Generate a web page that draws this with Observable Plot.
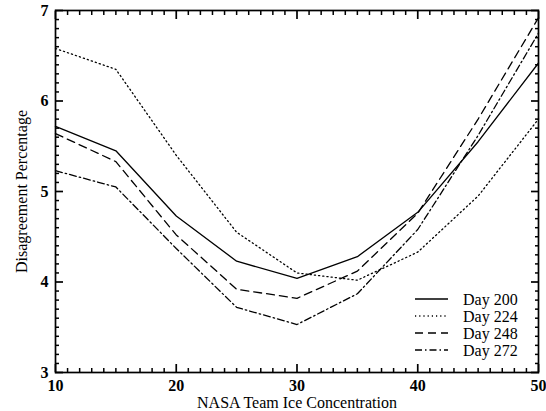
<!DOCTYPE html>
<html>
<head>
<meta charset="utf-8">
<script src="https://cdn.jsdelivr.net/npm/d3@7"></script>
<script src="https://cdn.jsdelivr.net/npm/@observablehq/plot@0.6"></script>
<style>
  body { margin: 0; background: #fff; }
  #wrap { position: relative; width: 546px; height: 411px; }
  #legend { position: absolute; left: 0; top: 0; }
</style>
</head>
<body>
<div id="wrap"></div>
<script>
// Data
const concentration = [10, 15, 20, 25, 30, 35, 40, 45, 50];
const day200 = [5.72, 5.45, 4.73, 4.23, 4.04, 4.28, 4.77, 5.55, 6.42];
const day224 = [6.58, 6.35, 5.40, 4.55, 4.10, 4.02, 4.33, 4.95, 5.80];
const day248 = [5.64, 5.33, 4.52, 3.92, 3.82, 4.12, 4.76, 5.80, 6.92];
const day272 = [5.23, 5.05, 4.37, 3.72, 3.53, 3.87, 4.58, 5.62, 6.75];
const seriesNames = ["Day 200", "Day 224", "Day 248", "Day 272"];
const seriesValues = [day200, day224, day248, day272];
const dashes = ["none", "1.2,3", "8,5", "7,3,1.5,3"];

const xDomain = [10, 50];
const yDomain = [3, 7];
const xMajor = [10, 20, 30, 40, 50];
const xMinor = d3.range(10, 51, 1).filter(v => v % 10 !== 0);
const yMajor = [3, 4, 5, 6, 7];
const yMinor = d3.range(30, 71, 1).filter(v => v % 10 !== 0).map(v => v / 10);

const rows = [];
seriesNames.forEach((name, s) => {
  concentration.forEach((c, i) => rows.push({series: name, x: c, y: seriesValues[s][i]}));
});

const font = "'Liberation Serif', 'Times New Roman', serif";
const W = 546, H = 411, mL = 55, mR = 8, mT = 10, mB = 39;
const tickOnly = () => "";
const maj = {tickSize: -8, tickFormat: tickOnly, label: null, strokeWidth: 1.7};
const min = {tickSize: -4, tickFormat: tickOnly, label: null, strokeWidth: 1.5};

const marks = [
  // inward ticks on all four sides
  Plot.axisX(xMajor, {anchor: "bottom", ...maj}),
  Plot.axisX(xMinor, {anchor: "bottom", ...min}),
  Plot.axisX(xMajor, {anchor: "top", ...maj}),
  Plot.axisX(xMinor, {anchor: "top", ...min}),
  Plot.axisY(yMajor, {anchor: "left", ...maj}),
  Plot.axisY(yMinor, {anchor: "left", ...min}),
  Plot.axisY(yMajor, {anchor: "right", ...maj}),
  Plot.axisY(yMinor, {anchor: "right", ...min}),
  Plot.frame({stroke: "black", strokeWidth: 1.7}),
  // tick labels
  Plot.axisX(xMajor, {anchor: "bottom", tickSize: 0, tickPadding: 7, label: null, tickFormat: "d", fontSize: 16, fontWeight: "bold"}),
  Plot.axisY(yMajor, {anchor: "left", tickSize: 0, tickPadding: 7, label: null, tickFormat: "d", fontSize: 16, fontWeight: "bold"}),
  // axis titles
  Plot.text(["NASA Team Ice Concentration"], {frameAnchor: "bottom", dy: 30, text: d => d, fontSize: 16, textAnchor: "middle", lineAnchor: "middle"}),
  Plot.text(["Disagreement Percentage"], {frameAnchor: "left", dx: -34, text: d => d, rotate: -90, fontSize: 16, textAnchor: "middle", lineAnchor: "middle"}),
];
seriesNames.forEach((name, s) => {
  marks.push(Plot.line(rows.filter(r => r.series === name), {
    x: "x", y: "y", stroke: "black", strokeWidth: 1.3, strokeDasharray: dashes[s]
  }));
});

const chart = Plot.plot({
  width: W,
  height: H,
  marginLeft: mL,
  marginRight: mR,
  marginTop: mT,
  marginBottom: mB,
  style: {fontFamily: font, background: "#fff", color: "black"},
  x: {domain: xDomain},
  y: {domain: yDomain},
  marks
});
document.getElementById("wrap").appendChild(chart);

// legend overlay
const lg = d3.select("#wrap").append("svg")
  .attr("id", "legend").attr("width", W).attr("height", H)
  .style("font-family", font);
seriesNames.forEach((name, i) => {
  const yy = 299 + i * 17;
  lg.append("line").attr("x1", 415).attr("x2", 448).attr("y1", yy).attr("y2", yy)
    .attr("stroke", "black").attr("stroke-width", 1.3)
    .attr("stroke-dasharray", dashes[i]);
  lg.append("text").attr("x", 463).attr("y", yy).attr("dy", "0.35em")
    .attr("font-size", 16).text(name);
});
</script>
</body>
</html>
